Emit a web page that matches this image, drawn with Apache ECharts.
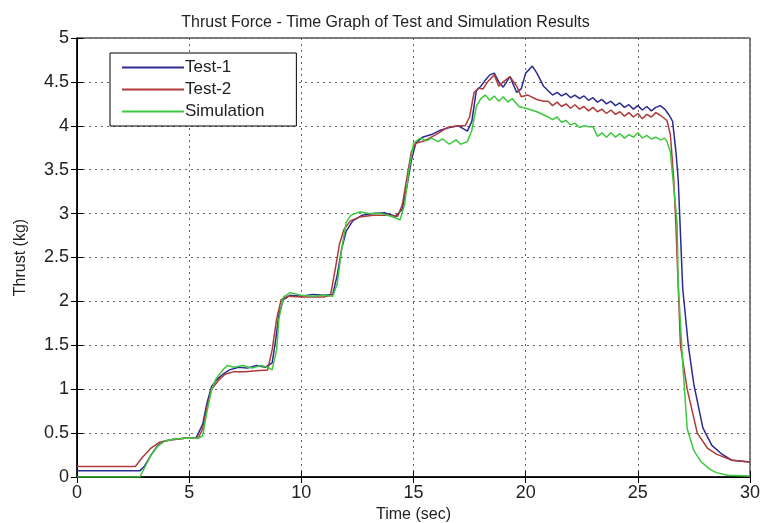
<!DOCTYPE html>
<html>
<head>
<meta charset="utf-8">
<script src="https://cdn.jsdelivr.net/npm/echarts@6/dist/echarts.min.js"></script>
<style>
    html, body {margin: 0; padding: 0; background: #fff;}
    #chart {width: 771px; height: 523px;}
</style>
</head>
<body>
<div id="chart"></div>
<script>
// 读图得到的数据 (time in sec, thrust in kg)
const test1Time = [0, 2.8, 3.0, 3.3, 3.6, 3.9, 4.3, 4.8, 5.3, 5.6, 5.8, 6.0, 6.2, 6.5, 6.8, 7.2, 7.6, 8.0, 8.4, 8.7, 8.85, 9.0, 9.2, 9.5, 10.0, 10.5, 11.0, 11.4, 11.6, 11.8, 12.0, 12.3, 12.7, 13.2, 13.7, 14.2, 14.5, 14.7, 14.9, 15.1, 15.4, 15.8, 16.2, 16.6, 17.0, 17.4, 17.6, 17.8, 18.0, 18.2, 18.4, 18.6, 18.8, 19.0, 19.3, 19.6, 19.8, 20.0, 20.3, 20.5, 20.8,
    21.0, 21.2, 21.4, 21.6, 21.8, 22.0, 22.2, 22.4, 22.6, 22.8, 23.0, 23.2, 23.4, 23.6, 23.8, 24.0, 24.2, 24.4, 24.6, 24.8, 25.0, 25.2, 25.4, 25.6, 25.8, 26.0, 26.2, 26.4,
    26.55, 26.7, 26.8, 27.0, 27.25, 27.5, 27.9, 28.3, 28.7, 29.2, 30];
const test1Thrust = [0.07, 0.07, 0.12, 0.25, 0.36, 0.41, 0.43, 0.44, 0.44, 0.6, 0.85, 1.03, 1.1, 1.17, 1.22, 1.25, 1.24, 1.27, 1.25, 1.3, 1.55, 1.85, 2.02, 2.07, 2.06, 2.08, 2.07, 2.08, 2.3, 2.6, 2.8, 2.92, 2.98, 3.0, 3.01, 2.97, 3.05, 3.3, 3.6, 3.8, 3.87, 3.9, 3.95, 3.98, 4.0, 3.94, 4.05, 4.4, 4.45, 4.52, 4.58, 4.6, 4.5, 4.44, 4.56, 4.38, 4.42, 4.6, 4.68, 4.6, 4.45,
    4.40, 4.35, 4.38, 4.34, 4.37, 4.32, 4.35, 4.31, 4.34, 4.29, 4.32, 4.27, 4.30, 4.25, 4.28, 4.23, 4.26, 4.21, 4.24, 4.19, 4.23, 4.18, 4.22, 4.17, 4.21, 4.23, 4.19, 4.12,
    4.05, 3.7, 3.39, 2.15, 1.5, 1.05, 0.56, 0.36, 0.27, 0.19, 0.17];

const test2Time = [0, 2.6, 2.9, 3.3, 3.7, 4.2, 4.8, 5.4, 5.6, 5.8, 6.0, 6.3, 6.6, 7.0, 7.5, 8.0, 8.5, 8.7, 8.9, 9.1, 9.4, 10.0, 10.5, 11.0, 11.3, 11.5, 11.7, 11.9, 12.2, 12.6, 13.2, 13.8, 14.3, 14.5, 14.7, 14.9, 15.1, 15.5, 16.0, 16.5, 17.0, 17.3, 17.5, 17.7, 17.9, 18.1, 18.3, 18.6, 18.8, 19.0, 19.3, 19.6, 19.8, 20.1, 20.5, 20.8,
    21.0, 21.2, 21.4, 21.6, 21.8, 22.0, 22.2, 22.4, 22.6, 22.8, 23.0, 23.2, 23.4, 23.6, 23.8, 24.0, 24.2, 24.4, 24.6, 24.8, 25.0, 25.2, 25.4, 25.6, 25.8, 26.0, 26.2,
    26.3, 26.45, 26.6, 26.7, 26.9, 27.2, 27.65, 28.1, 28.5, 29.2, 30];
const test2Thrust = [0.12, 0.12, 0.22, 0.33, 0.4, 0.42, 0.44, 0.44, 0.55, 0.8, 1.0, 1.1, 1.17, 1.2, 1.2, 1.21, 1.22, 1.45, 1.8, 2.02, 2.06, 2.05, 2.05, 2.05, 2.07, 2.35, 2.65, 2.82, 2.92, 2.96, 2.98, 2.98, 2.97, 3.1, 3.4, 3.7, 3.8, 3.83, 3.9, 3.98, 4.0, 4.0, 4.1, 4.38, 4.43, 4.42, 4.5, 4.58, 4.45, 4.5, 4.56, 4.45, 4.33, 4.35, 4.3, 4.28,
    4.28, 4.23, 4.27, 4.22, 4.25, 4.2, 4.24, 4.19, 4.22, 4.17, 4.21, 4.16, 4.19, 4.14, 4.18, 4.13, 4.16, 4.11, 4.15, 4.1, 4.14, 4.08, 4.13, 4.1, 4.15, 4.12, 4.08,
    4.06, 3.9, 3.39, 2.85, 1.5, 1.0, 0.5, 0.33, 0.26, 0.19, 0.17];

const simTime = [0, 2.8, 3.0, 3.3, 3.6, 3.9, 4.3, 4.8, 5.4, 5.6, 5.8, 6.0, 6.2, 6.5, 6.7, 7.0, 7.4, 7.8, 8.2, 8.5, 8.7, 8.9, 9.0, 9.2, 9.5, 10.0, 10.5, 11.0, 11.4, 11.6, 11.8, 12.0, 12.2, 12.6, 13.0, 13.6, 14.0, 14.4, 14.6, 14.8, 15.0,
    15.3, 15.6, 15.8, 16.1, 16.3, 16.6, 16.9, 17.1, 17.4, 17.6, 17.8, 18.0, 18.2, 18.4, 18.6, 18.8, 19.0, 19.2, 19.4, 19.7, 20.0, 20.5,
    21.0, 21.2, 21.4, 21.6, 21.8, 22.0, 22.2, 22.4, 22.6, 22.8, 23.0, 23.2, 23.4, 23.6, 23.8, 24.0, 24.2, 24.4, 24.6, 24.8, 25.0, 25.2, 25.4, 25.6, 25.8, 26.0, 26.2,
    26.3, 26.45, 26.6, 26.75, 26.8, 27.0, 27.2, 27.5, 27.8, 28.2, 28.5, 29.0, 30];
const simThrust = [0, 0, 0.1, 0.25, 0.35, 0.41, 0.43, 0.44, 0.44, 0.47, 0.75, 1.0, 1.12, 1.22, 1.27, 1.25, 1.27, 1.24, 1.27, 1.25, 1.22, 1.45, 1.8, 2.05, 2.1, 2.07, 2.06, 2.07, 2.06, 2.2, 2.6, 2.9, 2.98, 3.02, 3.0, 3.0, 2.97, 2.93, 3.1, 3.5, 3.8,
    3.86, 3.83, 3.86, 3.82, 3.85, 3.79, 3.84, 3.79, 3.82, 3.95, 4.22, 4.31, 4.35, 4.29, 4.34, 4.28, 4.33, 4.27, 4.31, 4.22, 4.2, 4.16,
    4.1, 4.07, 4.1, 4.04, 4.06, 4.01, 4.03, 3.98, 4.0, 3.99, 3.99, 3.88, 3.92, 3.87, 3.92, 3.87, 3.91, 3.86, 3.9, 3.87, 3.92, 3.86, 3.89, 3.85, 3.87, 3.84, 3.86,
    3.82, 3.7, 3.3, 2.9, 2.2, 1.3, 0.55, 0.3, 0.18, 0.09, 0.05, 0.02, 0.01];

const seriesNames = ['Test-1', 'Test-2', 'Simulation'];
const seriesColors = ['#2a2a92', '#b03a3a', '#3cc83c'];

function toPoints(xs, ys) {
    let pts = [];
    for (let i = 0; i < xs.length; i++) {
        pts.push([xs[i], ys[i]]);
    }
    return pts;
}

let chart = echarts.init(document.getElementById('chart'));

const gridLine = {show: true, lineStyle: {type: [2, 4], color: '#666', width: 1}};
const tickLabel = {color: '#222', fontSize: 18, fontFamily: 'Liberation Sans, Arial'};

let option = {
    animation: false,
    backgroundColor: '#fff',
    title: {
        text: 'Thrust Force - Time Graph of Test and Simulation Results',
        left: 'center',
        top: 10,
        textStyle: {fontSize: 16, fontWeight: 'normal', color: '#222', fontFamily: 'Liberation Sans, Arial'}
    },
    legend: {
        data: seriesNames,
        orient: 'vertical',
        left: 110,
        top: 53,
        icon: 'rect',
        itemWidth: 62,
        itemHeight: 2,
        itemGap: 5,
        padding: [6, 32, 6, 12],
        borderColor: '#000',
        borderWidth: 1,
        backgroundColor: '#fff',
        textStyle: {fontSize: 17, color: '#222', fontFamily: 'Liberation Sans, Arial', padding: [0, 0, 0, -4]}
    },
    grid: {
        left: 77,
        right: 21,
        top: 38,
        bottom: 46,
        outerBoundsMode: 'none',
        containLabel: false,
        show: true,
        borderColor: '#000',
        borderWidth: 1
    },
    xAxis: [{
        type: 'value',
        min: 0,
        max: 30,
        interval: 5,
        name: 'Time (sec)',
        nameLocation: 'middle',
        nameGap: 27,
        nameTextStyle: {fontSize: 16, color: '#222', fontFamily: 'Liberation Sans, Arial'},
        axisLine: {lineStyle: {color: '#000', width: 1.5}},
        axisTick: {inside: true, length: 6, lineStyle: {color: '#000'}},
        axisLabel: Object.assign({margin: 7}, tickLabel),
        splitLine: gridLine
    }, {
        type: 'value',
        position: 'top',
        min: 0,
        max: 30,
        interval: 5,
        axisLine: {lineStyle: {color: '#000'}},
        axisTick: {inside: true, length: 6, lineStyle: {color: '#000'}},
        axisLabel: {show: false},
        splitLine: {show: false}
    }],
    yAxis: [{
        type: 'value',
        min: 0,
        max: 5,
        interval: 0.5,
        name: 'Thrust (kg)',
        nameLocation: 'middle',
        nameGap: 48,
        nameTextStyle: {fontSize: 16, color: '#222', fontFamily: 'Liberation Sans, Arial'},
        axisLine: {lineStyle: {color: '#000', width: 1.5}},
        axisTick: {inside: true, length: 6, lineStyle: {color: '#000'}},
        axisLabel: Object.assign({margin: 8}, tickLabel),
        splitLine: gridLine
    }, {
        type: 'value',
        position: 'right',
        min: 0,
        max: 5,
        interval: 0.5,
        axisLine: {show: true, lineStyle: {color: '#000'}},
        axisTick: {show: true, inside: true, length: 6, lineStyle: {color: '#000'}},
        axisLabel: {show: false},
        splitLine: {show: false}
    }],
    series: [{
        name: seriesNames[0],
        type: 'line',
        data: toPoints(test1Time, test1Thrust),
        showSymbol: false,
        color: seriesColors[0],
        lineStyle: {width: 1.5}
    }, {
        name: seriesNames[1],
        type: 'line',
        data: toPoints(test2Time, test2Thrust),
        showSymbol: false,
        color: seriesColors[1],
        lineStyle: {width: 1.5}
    }, {
        name: seriesNames[2],
        type: 'line',
        data: toPoints(simTime, simThrust),
        showSymbol: false,
        color: seriesColors[2],
        lineStyle: {width: 1.5}
    }]
};

chart.setOption(option);
</script>
</body>
</html>
